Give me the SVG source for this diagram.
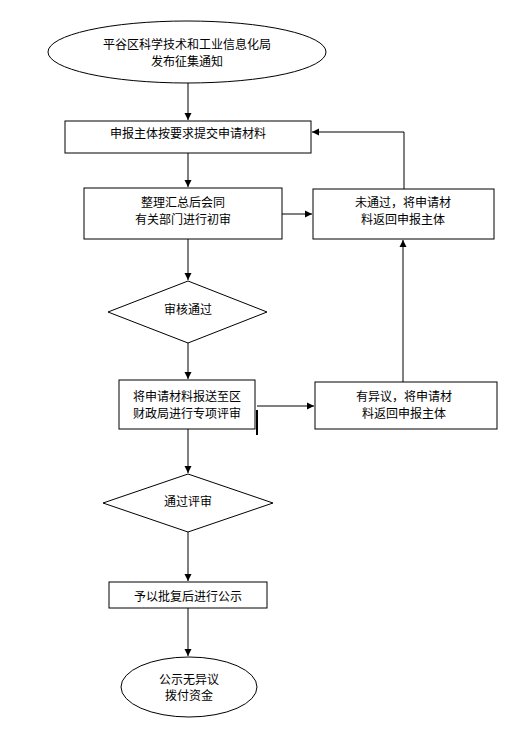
<svg xmlns="http://www.w3.org/2000/svg" width="514" height="735" viewBox="0 0 514 735">
<style>
.s{fill:#fff;stroke:#000;stroke-width:1}
.t{font-family:"Noto Sans CJK SC","Noto Sans",sans-serif;font-size:12px;fill:#000;text-anchor:middle;dominant-baseline:central}
.c{fill:none;stroke:#000;stroke-width:1}
</style>
<defs>
<marker id="a" markerWidth="8" markerHeight="8" refX="7" refY="4" orient="auto" markerUnits="userSpaceOnUse">
<path d="M0,0.5 L7,4 L0,7.5 Z" fill="#000"/>
</marker>
</defs>
<rect width="514" height="735" fill="#fff"/>
<g id="connectors">
<path class="c" d="M188,83 V120" marker-end="url(#a)"/>
<path class="c" d="M188,153 V187" marker-end="url(#a)"/>
<path class="c" d="M282,214 H312" marker-end="url(#a)"/>
<path class="c" d="M404,189 V132 H312" marker-end="url(#a)"/>
<path class="c" d="M188,239 V280" marker-end="url(#a)"/>
<path class="c" d="M188,343 V379" marker-end="url(#a)"/>
<path class="c" d="M257,406 H314" marker-end="url(#a)"/>
<path d="M257,410 V435" stroke="#000" stroke-width="2"/>
<path class="c" d="M403,382 V240" marker-end="url(#a)"/>
<path class="c" d="M188,429 V473" marker-end="url(#a)"/>
<path class="c" d="M188,532 V581" marker-end="url(#a)"/>
<path class="c" d="M188,608 V656" marker-end="url(#a)"/>
</g>
<g id="start">
<ellipse class="s" cx="187" cy="52" rx="139" ry="31"/>
<text class="t" x="187" y="43">平谷区科学技术和工业信息化局</text>
<text class="t" x="187" y="60">发布征集通知</text>
</g>
<g id="submit">
<rect class="s" x="65" y="121" width="246" height="32"/>
<text class="t" x="188" y="132">申报主体按要求提交申请材料</text>
</g>
<g id="collect">
<rect class="s" x="84" y="188" width="198" height="51"/>
<text class="t" x="183" y="201">整理汇总后会同</text>
<text class="t" x="183" y="218">有关部门进行初审</text>
</g>
<g id="reject1">
<rect class="s" x="313" y="189" width="181" height="50"/>
<text class="t" x="403" y="201">未通过，将申请材</text>
<text class="t" x="403" y="218">料返回申报主体</text>
</g>
<g id="check1">
<polygon class="s" points="188,281 267,312 188,343 108,312"/>
<text class="t" x="188" y="308">审核通过</text>
</g>
<g id="review">
<rect class="s" x="119" y="380" width="136" height="49"/>
<text class="t" x="187" y="395">将申请材料报送至区</text>
<text class="t" x="187" y="412">财政局进行专项评审</text>
</g>
<g id="reject2">
<rect class="s" x="315" y="382" width="182" height="47"/>
<text class="t" x="404" y="395">有异议，将申请材</text>
<text class="t" x="404" y="412">料返回申报主体</text>
</g>
<g id="check2">
<polygon class="s" points="188,474 273,503 188,532 103,503"/>
<text class="t" x="188" y="500">通过评审</text>
</g>
<g id="publish">
<rect class="s" x="109" y="582" width="158" height="26"/>
<text class="t" x="188" y="595">予以批复后进行公示</text>
</g>
<g id="end">
<ellipse class="s" cx="189" cy="687" rx="68" ry="30"/>
<text class="t" x="189" y="678">公示无异议</text>
<text class="t" x="189" y="694">拨付资金</text>
</g>
</svg>
